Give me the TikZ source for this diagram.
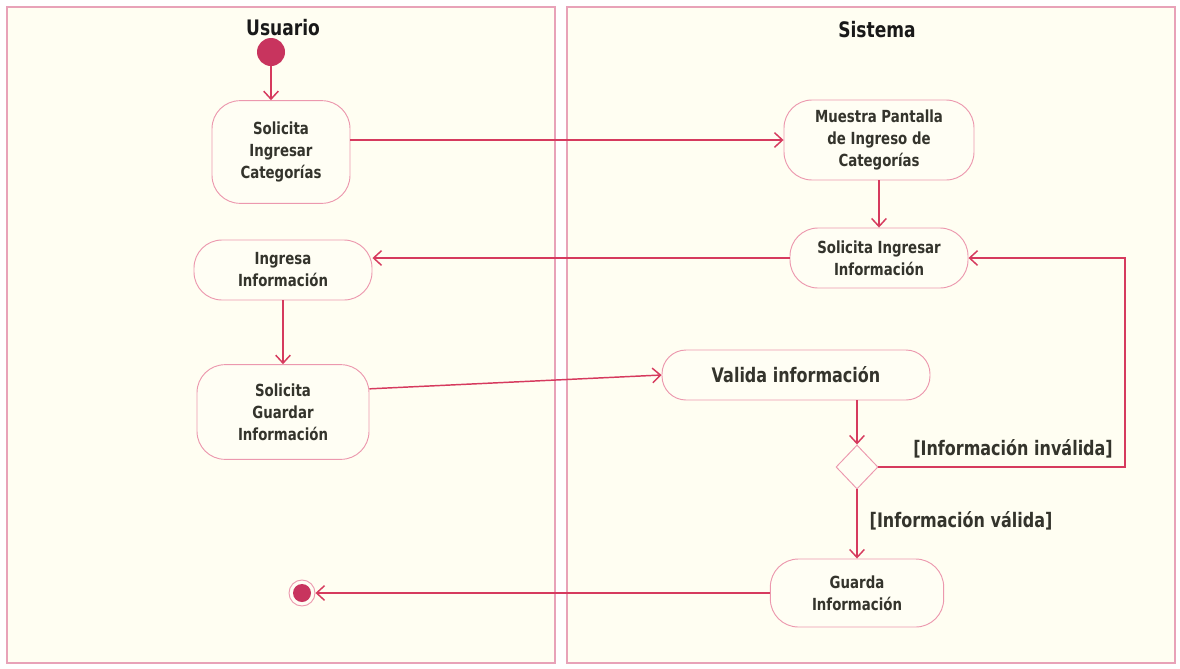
\documentclass[tikz,border=0pt]{standalone}
\usepackage{fontspec}
\setmainfont{DejaVu Sans}[FakeStretch=0.8]
\usepackage{tikz}
\usetikzlibrary{
  arrows.meta,
  shapes.geometric,
  positioning,
  calc
}
\definecolor{acLine}{HTML}{D63A5E}
\definecolor{acEdge}{HTML}{EC98AE}
\definecolor{acLaneEdge}{HTML}{E8A2B8}
\definecolor{acLane}{HTML}{FFFEF2}
\definecolor{acFill}{HTML}{FFFEF4}
\definecolor{acStart}{HTML}{C8345E}
\definecolor{acText}{HTML}{34342C}

\begin{document}
\begin{tikzpicture}[x=0.75pt, y=0.75pt, font=\bfseries\fontsize{12.5}{16.5}\selectfont,
  lane/.style={draw=acLaneEdge, fill=acLane, line width=0.9pt},
  head/.style={text=black!90, font=\bfseries\fontsize{16}{18}\selectfont},
  act/.style={draw=acEdge, fill=acFill, rounded corners=21pt, align=center, text=acText, inner sep=0pt, line width=0.7pt},
  flow/.style={draw=acLine, line width=1.1pt, -{Straight Barb[length=6pt, width=11pt]}},
  guard/.style={text=acText, font=\bfseries\fontsize{15}{17}\selectfont}]
  \useasboundingbox (0,0) rectangle (1180,-668);
  \fill[white] (0,0) rectangle (1180,-668);

  % swimlanes
  \draw[lane] (7,-7) rectangle (555,-663);
  \draw[lane] (567,-7) rectangle (1175,-663);
  \node[head] (usuario) at (283,-28) {Usuario};
  \node[head] (sistema) at (877,-30) {Sistema};

  % actions
  \node[circle, fill=acStart, minimum size=21pt, inner sep=0pt] (init) at (271,-52) {};
  \node[act, minimum width=103.5pt, minimum height=77pt] (sic) at (281,-152) {Solicita\\Ingresar\\Categorías};
  \node[act, minimum width=142.5pt, minimum height=60pt] (mpc) at (879,-140) {Muestra Pantalla\\de Ingreso de\\Categorías};
  \node[act, minimum width=133.5pt, minimum height=45pt] (sii) at (879,-258) {Solicita Ingresar\\Información};
  \node[act, minimum width=133.5pt, minimum height=45pt] (ii) at (283,-270) {Ingresa\\Información};
  \node[act, minimum width=129pt, minimum height=71pt] (sgi) at (283,-412) {Solicita\\Guardar\\Información};
  \node[act, minimum width=201pt, minimum height=37.5pt, rounded corners=18pt, font=\bfseries\fontsize{15}{17}\selectfont] (vi) at (796,-375) {Valida información};
  \node[diamond, draw=acEdge, fill=acFill, line width=0.7pt, minimum width=31.5pt, minimum height=33pt, inner sep=0pt] (dec) at (857,-467) {};
  \node[act, minimum width=130pt, minimum height=51pt] (gi) at (857,-593) {Guarda\\Información};
  \node[circle, draw=acEdge, fill=acFill, line width=0.7pt, minimum size=19.5pt, inner sep=0pt] (fin) at (302,-593) {};
  \node[circle, fill=acStart, minimum size=13.5pt, inner sep=0pt] (findot) at (fin) {};

  % guards
  \coordinate (loop) at (1125,-467);
  \node[guard] (inv) at (1013,-449) {[Información inválida]};
  \node[guard] (val) at (961,-521) {[Información válida]};

  % flows
  \draw[flow] (init) -- (init |- sic.north);
  \draw[flow] (sic.east |- mpc.west) -- (mpc.west);
  \draw[flow] (mpc) -- (sii);
  \draw[flow] (sii.west) -- (sii.west -| ii.east);
  \draw[flow] (ii) -- (sgi);
  \draw[flow] (sgi.15) -- (vi.west);
  \draw[flow] (vi.south -| dec) -- (dec.north);
  \draw[flow] (dec.east) -- (loop) |- (sii.east);
  \draw[flow] (dec.south) -- (gi.north);
  \draw[flow] (gi.west) -- (fin);
\end{tikzpicture}
\end{document}
